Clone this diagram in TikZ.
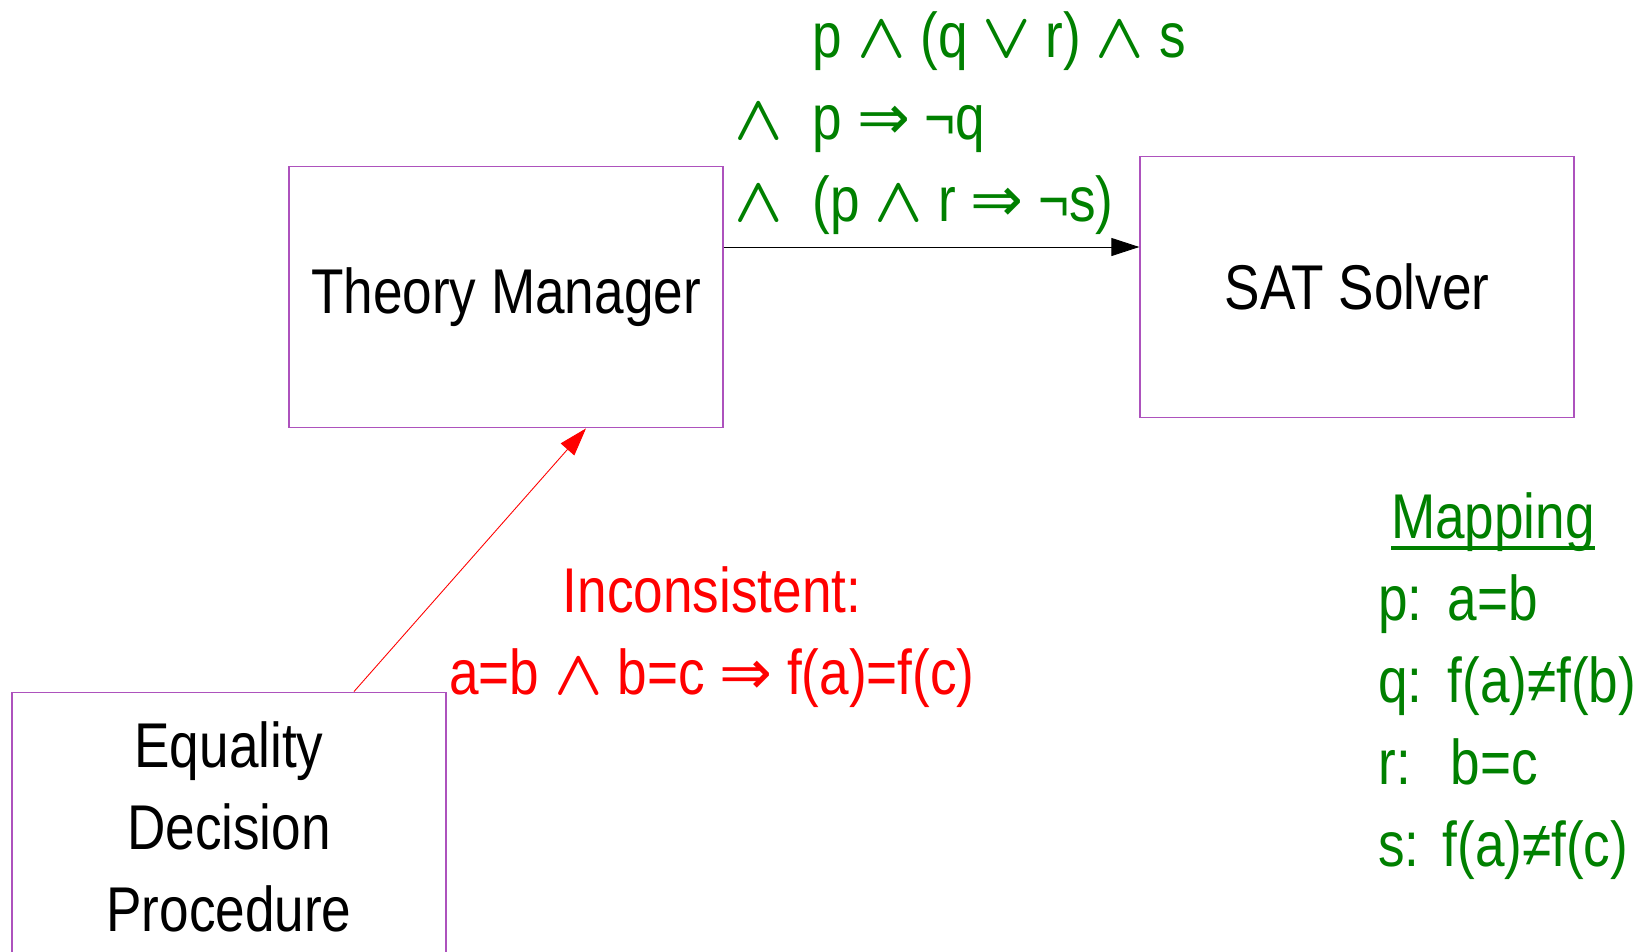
\RequirePackage{fix-cm}
\documentclass[tikz,border=0pt]{standalone}
\usepackage{fontspec}
\setmainfont[FakeStretch=0.84]{Liberation Sans}
\newfontfamily\opfont{DejaVu Sans}
\usepackage{amsmath}
\usetikzlibrary{arrows.meta}
\definecolor{BoxClr}{rgb}{0.68,0.32,0.74}
\definecolor{FormClr}{rgb}{0,0.5,0}
\newcommand{\lAnd}{$\boldsymbol{\wedge}$}
\newcommand{\lOr}{$\boldsymbol{\vee}$}
\newcommand{\lImp}{{\opfont ⇒}}
\newcommand{\thickul}[1]{\setbox0\hbox{#1}\rlap{\raisebox{-0.18em}{\rule{\wd0}{0.065em}}}\box0}

\begin{document}
\begin{tikzpicture}[x=0.02cm,y=-0.02cm,
  box/.style={draw=BoxClr,line width=0.8pt,minimum width=8.68cm,minimum height=5.23cm,
    inner sep=0pt,align=center,font=\fontsize{36}{46.7}\selectfont},
  lbl/.style={inner sep=0pt,font=\fontsize{36}{46.7}\selectfont},
  flow/.style={-{Triangle[length=0.56cm,width=0.36cm]},line width=0.5pt}]
\useasboundingbox (0,0) rectangle (1642,952);

% boxes
\node[box] (tm) at (506,297) {Theory Manager};
\node[box] (sat) at (1357,287) {SAT Solver};
\node[box,minimum height=5.39cm] (edp) at (229,827) {Equality\\Decision\\Procedure};

% formula sent to the solver
\node[lbl,text=FormClr,anchor=west] (form) at (734,123) {\begin{tabular}{@{}r@{\hspace{0.6cm}}l@{}}
  & p \lAnd{} (q \lOr{} r) \lAnd{} s\\
  \lAnd & p \lImp{} ¬q\\
  \lAnd & (p \lAnd{} r \lImp{} ¬s)
\end{tabular}};

% lemma from the decision procedure
\node[lbl,text=red,align=center] (incon) at (712,637)
  {Inconsistent:\\a=b \lAnd{} b=c \lImp{} f(a)=f(c)};

% mapping
\node[lbl,text=FormClr] (maptitle) at (1493,522) {\thickul{Mapping}};
\node[lbl,text=FormClr,anchor=west] (maptable) at (1378,727) {\begin{tabular}{@{}l@{\hspace{0.5cm}}l@{}}
  p: & a=b\\
  q: & f(a)≠f(b)\\
  r: & \hspace{0.06cm}b=c\\
  s: & \hspace{-0.1cm}f(a)≠f(c)
\end{tabular}};

\draw[flow] ([yshift=1cm]tm.east) -- ([yshift=1cm]tm.east -| sat.west);
\draw[flow,red] ([xshift=2.5cm]edp.north) -- ([xshift=1.6cm]tm.south);

\end{tikzpicture}
\end{document}
